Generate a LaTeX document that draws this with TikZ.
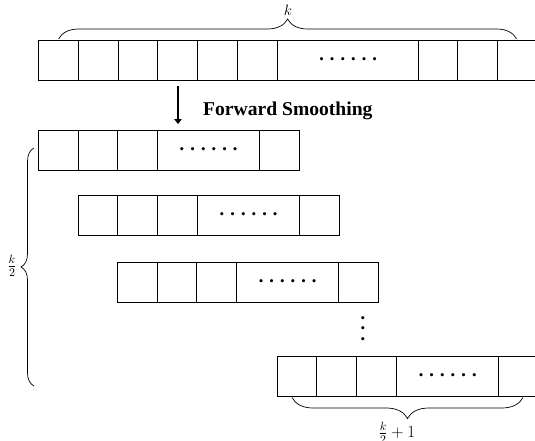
\RequirePackage{fix-cm}
\documentclass[tikz,border=0pt]{standalone}
\usepackage{fontspec}
\setmainfont{Liberation Serif}
\usetikzlibrary{decorations.pathreplacing,arrows.meta}
\newcommand{\dotrow}{{\fontsize{13}{13}\selectfont •\hspace{6.1pt}•\hspace{6.1pt}•\hspace{6.1pt}•\hspace{6.1pt}•\hspace{6.1pt}•}}
\tikzset{
  cell/.style={draw, line width=1.3pt, inner sep=0pt, minimum height=40pt, anchor=north west},
  w/.style={minimum width=#1pt},
  bracedec/.style={decorate, decoration={brace, amplitude=#1pt}, line width=0.7pt},
  mlabel/.style={inner sep=0pt, font=\fontsize{#1}{#1}\selectfont},
}
\begin{document}
\begin{tikzpicture}[x=1pt, y=-1pt]
\useasboundingbox (0,0) rectangle (535,440);
% row 1
\node[cell, w=40]  (r1c1) at (38,40) {};
\node[cell, w=40]  (r1c2) at (78,40) {};
\node[cell, w=39]  (r1c3) at (118,40) {};
\node[cell, w=40]  (r1c4) at (157,40) {};
\node[cell, w=40]  (r1c5) at (197,40) {};
\node[cell, w=40]  (r1c6) at (237,40) {};
\node[cell, w=141] (r1c7) at (277,40) {\dotrow};
\node[cell, w=39]  (r1c8) at (418,40) {};
\node[cell, w=40]  (r1c9) at (457,40) {};
\node[cell, w=44]  (r1c10) at (497,40) {};
% row 2
\node[cell, w=40]  (r2c1) at (38,130) {};
\node[cell, w=39]  (r2c2) at (78,130) {};
\node[cell, w=40]  (r2c3) at (117,130) {};
\node[cell, w=102] (r2c4) at (157,130) {\dotrow};
\node[cell, w=40]  (r2c5) at (259,130) {};
% row 3
\node[cell, w=39]  (r3c1) at (78,195) {};
\node[cell, w=40]  (r3c2) at (117,195) {};
\node[cell, w=40]  (r3c3) at (157,195) {};
\node[cell, w=102] (r3c4) at (197,195) {\dotrow};
\node[cell, w=40]  (r3c5) at (299,195) {};
% row 4
\node[cell, w=40]  (r4c1) at (117,262) {};
\node[cell, w=39]  (r4c2) at (157,262) {};
\node[cell, w=40]  (r4c3) at (196,262) {};
\node[cell, w=102] (r4c4) at (236,262) {\dotrow};
\node[cell, w=40]  (r4c5) at (338,262) {};
% row 5
\node[cell, w=39]  (r5c1) at (277,356) {};
\node[cell, w=40]  (r5c2) at (316,356) {};
\node[cell, w=40]  (r5c3) at (356,356) {};
\node[cell, w=102] (r5c4) at (396,356) {\dotrow};
\node[cell, w=44]  (r5c5) at (498,356) {};
% vertical dots
\node[inner sep=0pt, align=center, font=\fontsize{13}{10.7}\selectfont] (vdots) at (363,330) {•\\•\\•};
% arrow and label
\coordinate (arrS) at (178,86);
\coordinate (arrE) at (178,124);
\draw[line width=2.8pt, -{Triangle[length=5pt,width=7.5pt]}] (arrS) -- (arrE);
\node[anchor=base west, inner sep=0pt, font=\fontsize{19.6}{22}\selectfont\bfseries] (fs) at (203,115) {Forward Smoothing};
% braces
\coordinate (tb1) at (58.6,39);
\coordinate (tb2) at (516.6,39);
\draw[bracedec=20] (tb1) -- (tb2);
\node[mlabel=15] (klab) at (288,10) {$k$};
\coordinate (lb1) at (34,386);
\coordinate (lb2) at (34,148);
\draw[bracedec=13] (lb1) -- (lb2);
\node[mlabel=17] (k2lab) at (12,266) {$\frac{k}{2}$};
\coordinate (bb1) at (523,397.5);
\coordinate (bb2) at (292,397.5);
\draw[bracedec=21] (bb1) -- (bb2);
\node[mlabel=17] (k21lab) at (397,433) {$\frac{k}{2}+1$};
\end{tikzpicture}
\end{document}
